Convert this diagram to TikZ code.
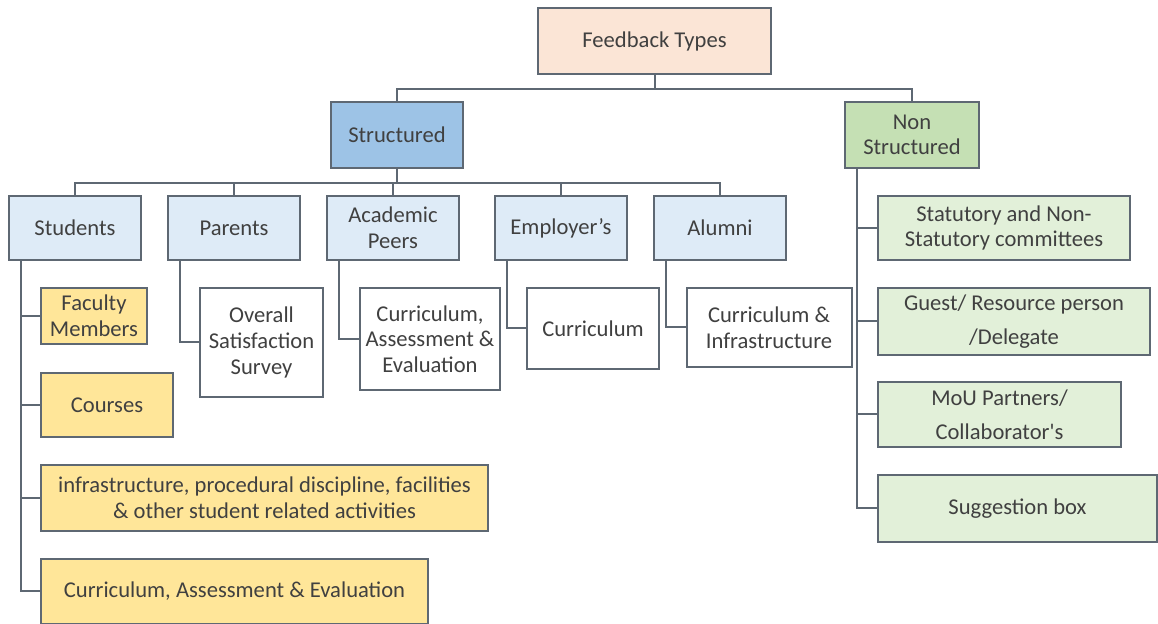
\documentclass[tikz,border=0pt]{standalone}
\usepackage{fontspec}
\setmainfont{Carlito}
\definecolor{lin}{HTML}{5E6873}
\definecolor{txt}{HTML}{404040}
\definecolor{peach}{HTML}{FBE5D6}
\definecolor{blueA}{HTML}{9DC3E6}
\definecolor{blueB}{HTML}{DEEBF7}
\definecolor{greenA}{HTML}{C5E0B4}
\definecolor{greenB}{HTML}{E2F0D9}
\definecolor{gold}{HTML}{FFE699}
\tikzset{
  box/.style={draw=lin, line width=1pt, text=txt, align=center, inner sep=1pt,
    font=\fontsize{11.3}{12.8}\selectfont},
  link/.style={draw=lin, line width=1pt},
}
\begin{document}
\begin{tikzpicture}[x=0.5pt, y=-0.5pt]
	\useasboundingbox (0,0) rectangle (1158,624);
	% top levels
	\node[box, fill=peach, minimum width=116.5pt, minimum height=33pt] (ft) at (654.5,41) {Feedback Types};
	\node[box, fill=blueA, minimum width=66pt, minimum height=33pt] (str) at (397,135) {Structured};
	\node[box, fill=greenA, minimum width=67pt, minimum height=33pt] (ns) at (912,135) {Non\\Structured};
	% structured groups
	\node[box, fill=blueB, minimum width=66pt, minimum height=32pt] (stu) at (75,228) {Students};
	\node[box, fill=blueB, minimum width=66pt, minimum height=32pt] (par) at (234,228) {Parents};
	\node[box, fill=blueB, minimum width=66pt, minimum height=32pt] (aca) at (393,228) {Academic\\Peers};
	\node[box, fill=blueB, minimum width=66pt, minimum height=32pt] (emp) at (561,228) {Employer’s};
	\node[box, fill=blueB, minimum width=66pt, minimum height=32pt] (alu) at (720,228) {Alumni};
	% students
	\node[box, fill=gold, minimum width=53pt, minimum height=28pt] (fac) at (94,316) {Faculty\\Members};
	\node[box, fill=gold, minimum width=66pt, minimum height=32pt] (cou) at (107,405) {Courses};
	\node[box, fill=gold, minimum width=223.5pt, minimum height=33pt] (inf) at (264.5,498) {infrastructure, procedural discipline, facilities\\\& other student related activities};
	\node[box, fill=gold, minimum width=193.5pt, minimum height=32.5pt] (cae) at (234.5,591.5) {Curriculum, Assessment \& Evaluation};
	% other groups
	\node[box, fill=white, minimum width=61.5pt, minimum height=54.5pt] (oss) at (261.5,342.5) {Overall\\Satisfaction\\Survey};
	\node[box, fill=white, minimum width=70pt, minimum height=51pt] (ace) at (430,339) {Curriculum,\\Assessment \&\\Evaluation};
	\node[box, fill=white, minimum width=66pt, minimum height=40.5pt] (cur) at (593,328.5) {Curriculum};
	\node[box, fill=white, minimum width=82.5pt, minimum height=39.5pt] (cin) at (769,327.5) {Curriculum \&\\Infrastructure};
	% non structured
	\node[box, fill=greenB, minimum width=126pt, minimum height=32pt] (sta) at (1004,228) {Statutory and Non-\\Statutory committees};
	\node[box, fill=greenB, minimum width=136pt, minimum height=33.5pt] (gue) at (1014,321.5) {Guest/ Resource person\\[4pt]/Delegate};
	\node[box, fill=greenB, minimum width=121.5pt, minimum height=32.5pt] (mou) at (999.5,414.5) {MoU Partners/\\[4pt]Collaborator\textquotesingle s};
	\node[box, fill=greenB, minimum width=139.5pt, minimum height=33.5pt] (sug) at (1017.5,508.5) {Suggestion box};
	% connectors
	\foreach \n in {str,ns}{\draw[link] (ft.south) -- ++(0,14) -| (\n.north);}
	\foreach \n in {stu,par,aca,emp,alu}{\draw[link] (str.south) -- ++(0,14) -| (\n.north);}
	\foreach \p/\c in {stu/fac, stu/cou, stu/inf, stu/cae, par/oss, aca/ace, emp/cur, alu/cin, ns/sta, ns/gue, ns/mou, ns/sug}
		{\draw[link] ([xshift=6.5pt]\p.south west) |- (\c.west);}
\end{tikzpicture}
\end{document}
